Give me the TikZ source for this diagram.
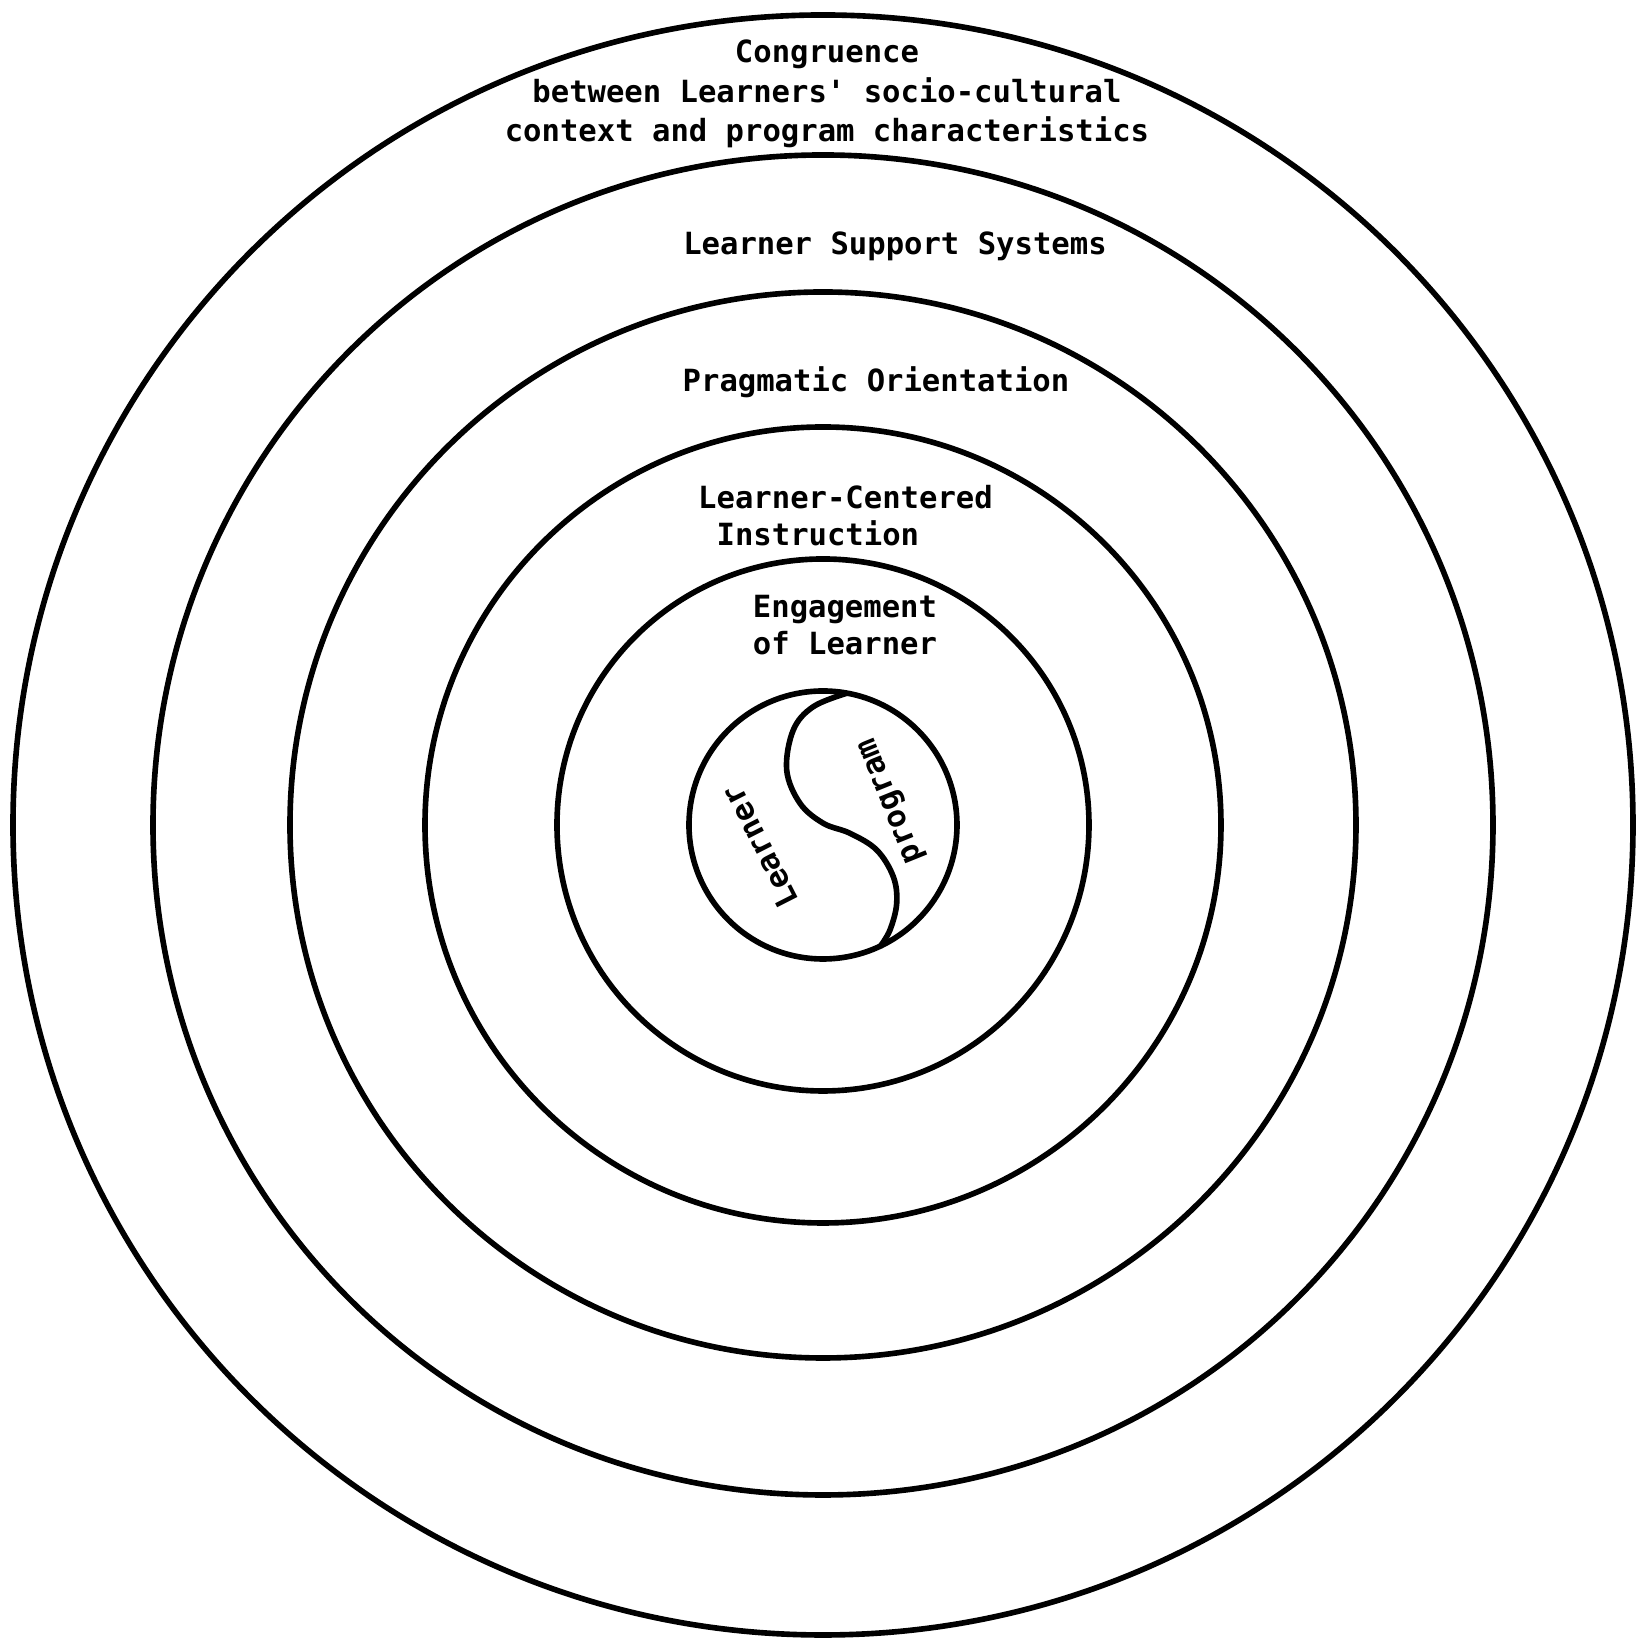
\documentclass[tikz,border=0pt]{standalone}
\usepackage{fontspec}
\setmonofont{DejaVu Sans Mono}
\begin{document}
\begin{tikzpicture}[
	ring/.style={ draw, line width=1.6pt },
	ringtext/.style={ font=\ttfamily\bfseries\fontsize{8.7}{10.6}\selectfont, inner sep=0pt },
	yintext/.style={ font=\ttfamily\bfseries\fontsize{8.9}{10.6}\selectfont, inner sep=0pt }
]
\useasboundingbox (-8.23,-8.13) rectangle (8.19,8.25);

\coordinate (o) at (0,0);
\draw[ring] (o) circle (8.10);
\draw[ring] (o) circle (6.70);
\draw[ring] (o) circle (5.33);
\draw[ring] (o) circle (3.98);
\draw[ring] (o) circle (2.66);
\draw[ring] (o) circle (1.34);

\draw[ring] plot[smooth, tension=0.6] coordinates {
	(0.237,1.317) (-0.097,1.183) (-0.297,0.95) (-0.363,0.55) (-0.23,0.217)
	(0.003,0.017) (0.27,-0.083) (0.537,-0.25) (0.703,-0.517) (0.737,-0.783)
	(0.67,-1.05) (0.57,-1.217) };

\node at (0.04,7.31) (cong) [ringtext, align=center, font=\ttfamily\bfseries\fontsize{8.7}{11.3}\selectfont]
	{Congruence\\between Learners' socio-cultural\\context and program characteristics};
\node at (0.72,5.79) (supp) [ringtext] {Learner Support Systems};
\node at (0.53,4.43) (prag) [ringtext] {Pragmatic Orientation};
\node at (0.225,3.095) (cent) [ringtext, align=left] {Learner-Centered\\\phantom{L}Instruction};
\node at (0.22,2.00) (enga) [ringtext, align=left] {Engagement\\of Learner};

\node at (-0.63,-0.22) (lear) [yintext, rotate=117] {Learner};
\node at (0.70,0.25) (prog) [yintext, rotate=112] {program};

\end{tikzpicture}
\end{document}
